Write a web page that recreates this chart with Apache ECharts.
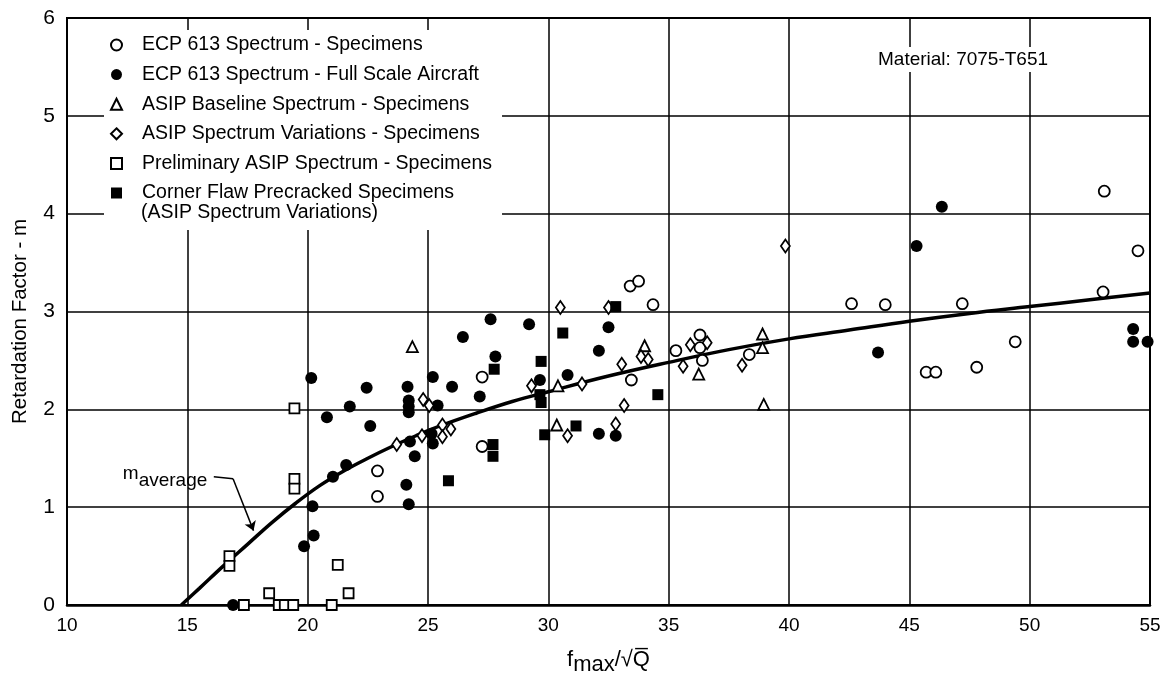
<!DOCTYPE html>
<html>
<head>
<meta charset="utf-8">
<script src="https://cdn.jsdelivr.net/npm/echarts@6/dist/echarts.min.js"></script>
<style>
  html, body { margin: 0; padding: 0; background: #fff; }
  #chart { width: 1167px; height: 674px; }
</style>
</head>
<body>
<div id="chart"></div>
<script>
/* ---------- data ---------- */

var ecpSpecimens = [
  [22.9, 1.37], [22.9, 1.11], [27.25, 2.33], [27.25, 1.62], [33.4, 3.26],
  [33.75, 3.31], [34.35, 3.07], [33.45, 2.30], [35.3, 2.60], [36.3, 2.76],
  [36.3, 2.63], [36.4, 2.50], [38.35, 2.56], [42.6, 3.08], [44.0, 3.07],
  [47.2, 3.08], [45.7, 2.38], [46.1, 2.38], [47.8, 2.43], [49.4, 2.69],
  [53.1, 4.23], [54.5, 3.62], [53.05, 3.20]
];

var ecpAircraft = [
  [16.9, 0.0], [19.85, 0.60], [20.25, 0.71], [20.2, 1.01], [20.15, 2.32],
  [20.8, 1.92], [21.05, 1.31], [21.6, 1.43], [21.75, 2.03], [22.45, 2.22],
  [22.6, 1.83], [24.15, 2.23], [24.2, 2.09], [24.2, 2.03], [24.2, 1.97],
  [24.1, 1.23], [24.2, 1.03], [24.25, 1.67], [24.45, 1.52], [25.15, 1.75],
  [25.2, 1.65], [25.2, 2.33], [25.4, 2.04], [26.0, 2.23], [26.45, 2.74],
  [27.6, 2.92], [27.8, 2.54], [27.15, 2.13], [29.2, 2.87], [29.65, 2.30],
  [30.8, 2.35], [32.1, 2.60], [32.5, 2.84], [32.1, 1.75], [32.8, 1.73],
  [43.7, 2.58], [45.3, 3.67], [46.35, 4.07], [54.3, 2.82], [54.3, 2.69],
  [54.9, 2.69]
];

var asipBaseline = [
  [24.35, 2.64], [30.4, 2.24], [30.35, 1.84], [34.0, 2.65], [38.9, 2.77],
  [38.9, 2.63], [36.25, 2.36], [38.95, 2.05]
];

var asipVariations = [
  [23.7, 1.64], [24.8, 2.10], [25.05, 2.04], [24.75, 1.73], [25.6, 1.84],
  [25.6, 1.72], [25.95, 1.80], [29.3, 2.24], [30.5, 3.04], [32.5, 3.04],
  [31.4, 2.26], [33.05, 2.46], [33.85, 2.54], [34.15, 2.51], [33.15, 2.04],
  [30.8, 1.73], [32.8, 1.85], [35.6, 2.44], [35.9, 2.66], [36.6, 2.68],
  [38.05, 2.45], [39.85, 3.67]
];

var preliminary = [
  [19.45, 2.01], [19.45, 1.29], [19.45, 1.19], [16.75, 0.50], [16.75, 0.40],
  [17.35, 0.0], [18.4, 0.12], [18.8, 0.0], [19.05, 0.0], [19.4, 0.0],
  [21.0, 0.0], [21.25, 0.41], [21.7, 0.12]
];

var cornerFlaw = [
  [32.8, 3.05], [30.6, 2.78], [29.7, 2.49], [27.75, 2.41], [29.65, 2.15],
  [29.7, 2.07], [29.85, 1.74], [31.15, 1.83], [27.7, 1.64], [27.7, 1.52],
  [34.55, 2.15], [25.85, 1.27]
];

// m average curve
var curveX = [14.75, 15.5, 16.5, 17.5, 18.5, 19.5, 20.5, 21.5, 22.5, 23.5, 24.5, 25.5, 27,
              28.5, 30, 32.5, 35, 37.5, 40, 42.5, 45, 47.5, 50, 52.5, 55];
var curveY = [0, 0.17, 0.40, 0.62, 0.84, 1.04, 1.22, 1.37, 1.50, 1.62, 1.73, 1.83, 1.96,
              2.08, 2.18, 2.34, 2.48, 2.61, 2.72, 2.81, 2.90, 2.98, 3.05, 3.12, 3.19];

// leader from the "m average" note to the curve
var leaderPts = [[16.1, 1.31], [16.9, 1.29], [17.75, 0.76]];

var xTicks = { min: 10, max: 55, step: 5 };
var yTicks = { min: 0, max: 6, step: 1 };

var names = [
  "ECP 613 Spectrum - Specimens",
  "ECP 613 Spectrum - Full Scale Aircraft",
  "ASIP Baseline Spectrum - Specimens",
  "ASIP Spectrum Variations - Specimens",
  "Preliminary ASIP Spectrum - Specimens",
  "Corner Flaw Precracked Specimens"
];

/* ---------- chart ---------- */

var FONT = "'Liberation Sans', Arial, Helvetica, sans-serif";

function scatter(name, data, symbol, size, filled) {
  return {
    name: name,
    type: "scatter",
    data: data,
    symbol: symbol,
    symbolSize: size,
    clip: false,
    z: 5,
    itemStyle: {
      color: filled ? "#000" : "#fff",
      borderColor: "#000",
      borderWidth: filled ? 0 : 1.8,
      opacity: 1
    }
  };
}

var curveData = curveX.map(function(x, i) { return [x, curveY[i]]; });

var chart = echarts.init(document.getElementById("chart"));

chart.setOption({
  animation: false,
  backgroundColor: "#fff",
  textStyle: { fontFamily: FONT, color: "#000" },
  grid: {
    left: 67, right: 17, top: 18, bottom: 69,
    outerBoundsMode: "none",
    show: true, borderColor: "#000", borderWidth: 2, backgroundColor: "transparent"
  },
  title: {
    text: "Material: 7075-T651",
    left: 872, top: 47,
    padding: [3, 6, 3, 6],
    backgroundColor: "#fff",
    textStyle: { fontFamily: FONT, fontSize: 19, fontWeight: "normal", color: "#000" }
  },
  legend: {
    data: names,
    orient: "vertical",
    left: 104, top: 30,
    padding: [4, 10, 26, 6],
    itemGap: 7.6,
    itemWidth: 11, itemHeight: 11,
    backgroundColor: "#fff",
    selectedMode: false,
    textStyle: { fontFamily: FONT, fontSize: 19.5, lineHeight: 22, color: "#000", padding: [0, 0, 0, 15] }
  },
  graphic: [{
    type: "text",
    left: 141, top: 203, z: 100,
    style: { text: "(ASIP Spectrum Variations)", font: "19.5px " + FONT, fill: "#000" }
  }],
  xAxis: {
    type: "value",
    min: xTicks.min, max: xTicks.max, interval: xTicks.step,
    name: "{n|f}{s|max}{n|/\u221AQ\u0305}",
    nameLocation: "middle",
    nameGap: 44,
    nameTextStyle: {
      color: "#000", fontFamily: FONT, fontSize: 22,
      rich: {
        n: { fontFamily: FONT, fontSize: 22, lineHeight: 22, verticalAlign: "top", color: "#000" },
        s: { fontFamily: FONT, fontSize: 22, lineHeight: 27, verticalAlign: "bottom", color: "#000" }
      }
    },
    axisLine: { lineStyle: { color: "#000", width: 2.5 } },
    axisTick: { show: false },
    axisLabel: { color: "#000", fontSize: 19, fontFamily: FONT, margin: 11 },
    splitLine: { show: true, lineStyle: { color: "#000", width: 1.5 } }
  },
  yAxis: {
    type: "value",
    min: yTicks.min, max: yTicks.max, interval: yTicks.step,
    name: "Retardation Factor - m",
    nameLocation: "middle",
    nameGap: 36,
    nameTextStyle: { color: "#000", fontFamily: FONT, fontSize: 20.5, padding: [0, 20, 0, 0] },
    axisLine: { lineStyle: { color: "#000", width: 2 } },
    axisTick: { show: false },
    axisLabel: { color: "#000", fontSize: 21, fontFamily: FONT, margin: 12 },
    splitLine: { show: true, lineStyle: { color: "#000", width: 1.5 } }
  },
  series: [
    {
      name: "m average",
      type: "line",
      data: curveData,
      smooth: 0.4,
      symbol: "none",
      z: 3,
      lineStyle: { color: "#000", width: 3.5 }
    },
    {
      name: "leader",
      type: "line",
      data: [],
      z: 3,
      markLine: {
        silent: true,
        symbol: ["none", "arrow"],
        symbolSize: 9,
        label: { show: false },
        lineStyle: { color: "#000", width: 1.5, type: "solid" },
        data: [
          [{ coord: leaderPts[0] }, { coord: leaderPts[1], symbol: "none" }],
          [{ coord: leaderPts[1] }, { coord: leaderPts[2] }]
        ]
      },
      markPoint: {
        silent: true,
        symbol: "circle",
        symbolSize: 1,
        itemStyle: { color: "transparent" },
        data: [{ coord: leaderPts[0] }],
        label: {
          show: true,
          position: "left",
          distance: 6,
          formatter: "{m|m}{s|average}",
          rich: {
            m: { fontFamily: FONT, fontSize: 19, lineHeight: 19, verticalAlign: "top", color: "#000" },
            s: { fontFamily: FONT, fontSize: 19, lineHeight: 26, verticalAlign: "bottom", color: "#000" }
          }
        }
      }
    },
    scatter(names[0], ecpSpecimens, "circle", 11, false),
    scatter(names[1], ecpAircraft, "circle", 12, true),
    scatter(names[2], asipBaseline, "triangle", 11, false),
    scatter(names[3], asipVariations, "diamond", [9, 13], false),
    scatter(names[4], preliminary, "rect", 10, false),
    scatter(names[5], cornerFlaw, "rect", 11, true)
  ]
});
</script>
</body>
</html>
